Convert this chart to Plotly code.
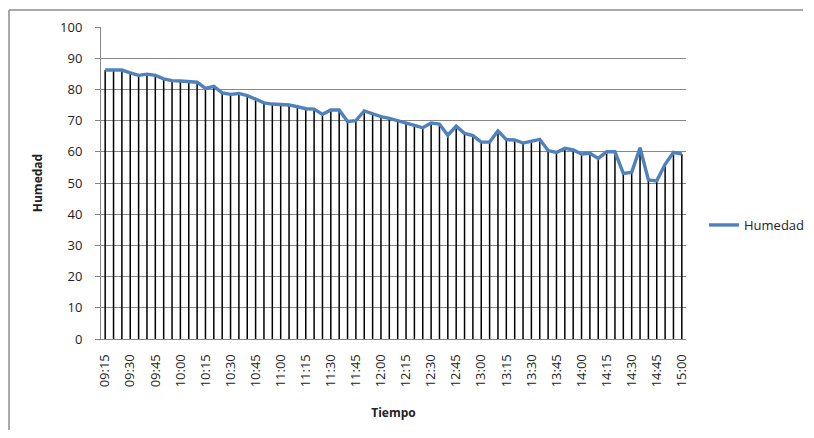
import plotly.graph_objects as go

times = [
    "09:15", "09:20", "09:25", "09:30", "09:35", "09:40", "09:45", "09:50", "09:55",
    "10:00", "10:05", "10:10", "10:15", "10:20", "10:25", "10:30", "10:35", "10:40",
    "10:45", "10:50", "10:55", "11:00", "11:05", "11:10", "11:15", "11:20", "11:25",
    "11:30", "11:35", "11:40", "11:45", "11:50", "11:55", "12:00", "12:05", "12:10",
    "12:15", "12:20", "12:25", "12:30", "12:35", "12:40", "12:45", "12:50", "12:55",
    "13:00", "13:05", "13:10", "13:15", "13:20", "13:25", "13:30", "13:35", "13:40",
    "13:45", "13:50", "13:55", "14:00", "14:05", "14:10", "14:15", "14:20", "14:25",
    "14:30", "14:35", "14:40", "14:45", "14:50", "14:55", "15:00",
]

humedad = [
    86.2, 86.2, 86.2, 85.3, 84.5, 84.9, 84.5, 83.4, 82.8, 82.7,
    82.4, 82.3, 80.3, 81.0, 78.9, 78.4, 78.7, 78.0, 76.9, 75.7,
    75.3, 75.1, 75.0, 74.5, 73.8, 73.7, 72.0, 73.4, 73.4, 69.7,
    70.0, 73.1, 72.2, 71.3, 70.7, 70.0, 69.4, 68.5, 67.7, 69.2,
    68.9, 65.3, 68.2, 65.9, 65.2, 63.1, 63.1, 66.7, 63.9, 63.8,
    62.8, 63.5, 64.0, 60.4, 59.8, 61.1, 60.6, 59.3, 59.5, 57.9,
    60.0, 60.0, 53.1, 53.4, 61.3, 51.0, 50.7, 56.0, 59.8, 59.3,
]

tick_labels = times[::3]
y_ticks = [0, 10, 20, 30, 40, 50, 60, 70, 80, 90, 100]

FONT = "Open Sans"
GRID = "#868686"
# the page body adds an 8px margin on each side, so the figure is made smaller
W, H = 798, 422
L, R, T, B = 93, 120, 19, 91
PW, PH = W - L - R, H - T - B

fig = go.Figure()

# vertical drop lines (from each point down to zero)
fig.add_trace(go.Scatter(
    x=times, y=humedad, mode="markers",
    marker=dict(size=0.1, opacity=0),
    error_y=dict(type="data", symmetric=False, array=[0] * len(humedad),
                 arrayminus=humedad, color="#000000", thickness=1.5, width=0),
    showlegend=False, hoverinfo="skip",
))

fig.add_trace(go.Scatter(
    x=times, y=humedad, mode="lines", name="Humedad",
    line=dict(color="#4F81BD", width=3.4),
))

top_y = (H - B - 2) / PH
left_x = (1 - L) / PW
right_x = (W - 3 - L) / PW
bottom_y = -(B) / PH

fig.update_layout(
    width=W, height=H,
    margin=dict(l=L, r=R, t=T, b=B, autoexpand=False),
    paper_bgcolor="white", plot_bgcolor="white",
    font=dict(family=FONT, size=13, color="#222222"),
    legend=dict(xref="container", yref="container",
                x=696 / W, y=(H - 217) / H, xanchor="left", yanchor="middle",
                font=dict(size=13, color="#222222"), bgcolor="rgba(0,0,0,0)"),
    xaxis=dict(
        type="category", range=[-0.5, len(times) - 0.5], automargin=False,
        tickmode="array", tickvals=tick_labels, ticktext=tick_labels,
        tickangle=-90, showgrid=False, showline=True, linecolor=GRID, linewidth=1,
        ticks="", ticklabelstandoff=9, tickfont=dict(size=13),
        title=dict(text="<b>Tiempo</b>", font=dict(size=12, color="#222222"), standoff=22),
    ),
    yaxis=dict(
        range=[0, 100], tickmode="array", tickvals=y_ticks, automargin=False,
        showgrid=True, gridcolor=GRID, gridwidth=1,
        showline=True, linecolor=GRID, linewidth=1,
        ticks="outside", ticklen=5, tickcolor=GRID, ticklabelstandoff=10,
        zeroline=False, tickfont=dict(size=13),
        title=dict(text="<b>Humedad</b>", font=dict(size=12, color="#222222"), standoff=14),
    ),
    shapes=[
        dict(type="line", xref="paper", yref="paper",
             x0=left_x, x1=right_x, y0=top_y, y1=top_y,
             line=dict(color="#8C8C8C", width=1.5), layer="below"),
        dict(type="line", xref="paper", yref="paper",
             x0=left_x, x1=left_x, y0=bottom_y, y1=top_y,
             line=dict(color="#8C8C8C", width=1.5), layer="below"),
    ],
)

fig.write_html("out.html")
